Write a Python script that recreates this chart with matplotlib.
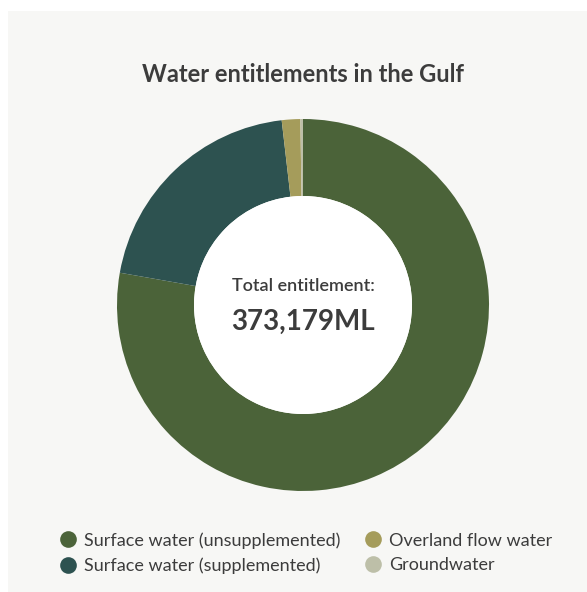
import matplotlib.pyplot as plt
from matplotlib.patches import Rectangle, Circle
from matplotlib.lines import Line2D

# entitlement volumes (ML) by water source
labels = ['Surface water (unsupplemented)', 'Surface water (supplemented)',
          'Overland flow water', 'Groundwater']
volumes = [290249, 76100, 6000, 830]
colors = ['#4b6339', '#2d5250', '#a59c5b', '#bdbfa8']

total = sum(volumes)

plt.rcParams['font.family'] = ['Lato', 'DejaVu Sans']

W, H = 587, 592
fig = plt.figure(figsize=(W / 100, H / 100), dpi=100)
fig.patch.set_facecolor('white')

# light panel behind everything
fig.patches.append(Rectangle((8 / W, 0), 1 - 8 / W, 1 - 11 / H,
                             transform=fig.transFigure, facecolor='#f7f7f5',
                             edgecolor='none', zorder=-5))

# donut
cx, cy, r = 303, H - 305, 186
hole = 109 / 186
ax = fig.add_axes([(cx - r) / W, (cy - r) / H, 2 * r / W, 2 * r / H])
ax.pie(volumes, colors=colors, startangle=90, counterclock=False,
       radius=1, wedgeprops=dict(width=1 - hole, edgecolor='none'))
ax.add_patch(Circle((0, 0), hole, facecolor='white', edgecolor='none'))
ax.set_xlim(-1, 1)
ax.set_ylim(-1, 1)
ax.set_aspect('equal')
ax.axis('off')

ax.text(0, 0.1, 'Total entitlement:', ha='center', va='center',
        fontsize=13, fontweight='semibold', color='#3c3c3c')
ax.text(0, -0.09, f'{total:,}ML', ha='center', va='center',
        fontsize=20, fontweight='bold', color='#3c3c3c')

fig.text(cx / W, 1 - 74 / H, 'Water entitlements in the Gulf', ha='center',
         va='center', fontsize=17, fontweight='bold', color='#3c3c3c')

# legend in two columns
handles = [Line2D([], [], marker='o', linestyle='none', markersize=12,
                  markerfacecolor=c, markeredgecolor='none') for c in colors]
fig.legend(handles, labels, ncol=2, loc='upper left',
           bbox_to_anchor=(43 / W, 1 - 516 / H), frameon=False,
           fontsize=13, labelcolor='#3c3c3c', handlelength=1,
           handletextpad=0.39, columnspacing=1.3, labelspacing=0.48)

fig.savefig('out.png', dpi=100)
